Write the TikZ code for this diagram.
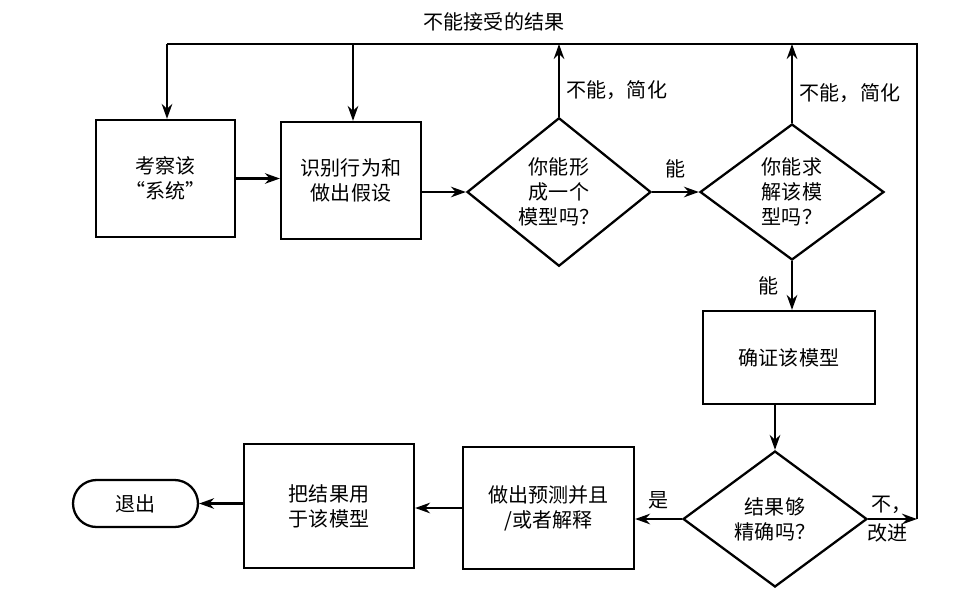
\documentclass[tikz,border=0pt]{standalone}
\usepackage{fontspec}
\setmainfont{Noto Sans CJK SC}
\usetikzlibrary{shapes.geometric,arrows.meta}
\tikzset{
  procbox/.style={draw, rectangle, inner sep=0pt, align=center},
  decision/.style={draw, diamond, inner sep=0pt, align=center, minimum width=3.68cm, minimum height=2.72cm},
  terminal/.style={draw, rectangle, rounded corners=0.47cm, inner sep=0pt, minimum width=2.5cm, minimum height=0.94cm},
  lbl/.style={inner sep=1pt},
  flow/.style={->},
}
\begin{document}
\begin{tikzpicture}[x=0.02cm, y=-0.02cm, line width=1.3pt,
  >={Stealth[length=8.5pt,width=6pt]},
  font=\fontsize{11.4}{14.2}\selectfont]
\useasboundingbox (0,0) rectangle (976,596);

% nodes
\node[procbox, minimum width=2.78cm, minimum height=2.34cm] (b1) at (165.5,178.5) {考察该\\“系统”};
\node[procbox, minimum width=2.8cm, minimum height=2.34cm] (b2) at (351,180.5) {识别行为和\\做出假设};
\node[decision] (d1) at (559,192) {你能形\\成一个\\模型吗？};
\node[decision] (d2) at (792,192) {你能求\\解该模\\型吗？};
\node[procbox, minimum width=3.44cm, minimum height=1.86cm] (b3) at (789,357.5) {确证该模型};
\node[decision] (d3) at (775,519) {结果够\\精确吗？};
\node[procbox, minimum width=3.42cm, minimum height=2.44cm] (b4) at (548.5,508) {做出预测并且\\/或者解释};
\node[procbox, minimum width=3.4cm, minimum height=2.48cm] (b5) at (329,506) {把结果用\\于该模型};
\node[terminal] (ex) at (135.5,503.5) {退出};

% loop coordinates
\coordinate (R) at (917,44);
\coordinate (L) at (167,44);
\coordinate (T2) at (353,44);

% connectors
\draw[flow] (b1.east) -- (b1.east -| b2.west);
\draw[flow] (b2.east |- d1.west) -- (d1.west);
\draw[flow] (d1.east) -- (d2.west) node[lbl, midway, above=6pt] {能};
\draw[flow] (d1.north) -- (d1.north |- R);
\draw[flow] (d2.north) -- (d2.north |- R);
\draw[flow] (d2.south) -- (d2.south |- b3.north) node[lbl, midway, left=6pt] {能};
\draw[flow] (d3.north |- b3.south) -- (d3.north);
\draw[flow] (d3.east) -- (d3.east -| R);
\draw (d3.east -| R) -- (R) -- (L);
\draw[flow] (L) -- (L |- b1.north);
\draw[flow] (T2) -- (T2 |- b2.north);
\draw[flow] (d3.west) -- (d3.west -| b4.east) node[lbl, midway, above=4pt] {是};
\draw[flow] (b4.west) -- (b4.west -| b5.east);
\draw[flow] (ex.east -| b5.west) -- (ex.east);

% labels
\node[lbl] (t0) at (494,22) {不能接受的结果};
\node[lbl, anchor=west] (t1) at (564,90) {不能，简化};
\node[lbl, anchor=west] (t2) at (797,93) {不能，简化};
\node[lbl, anchor=west] (t3) at (869,505) {不，};
\node[lbl, anchor=west] (t4) at (865,533) {改进};
\end{tikzpicture}
\end{document}
